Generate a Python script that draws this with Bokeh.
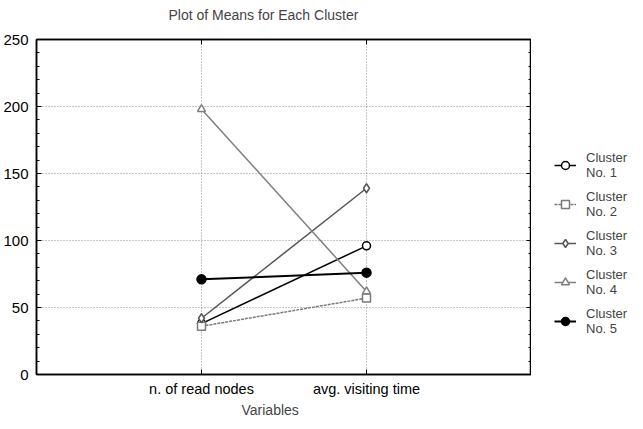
from bokeh.plotting import figure
from bokeh.layouts import row
from bokeh.models import (Range1d, FixedTicker, SingleIntervalTicker, LinearAxis,
                          Legend, LegendItem, Title, ColumnDataSource, Grid)
from bokeh.embed import file_html
from bokeh.resources import INLINE

# ---- data ----
categories = ["n. of read nodes", "avg. visiting time"]
cat_pos = [1, 2]
cluster_labels = ["Cluster\nNo. 1", "Cluster\nNo. 2", "Cluster\nNo. 3", "Cluster\nNo. 4", "Cluster\nNo. 5"]
cluster1 = [38, 96]
cluster2 = [36, 57]
cluster3 = [42, 139]
cluster4 = [198, 62]
cluster5 = [71, 76]
y_ticks = [0, 50, 100, 150, 200, 250]

FONT = "Liberation Sans"

p = figure(frame_width=495, frame_height=335, output_backend="svg", toolbar_location=None,
           x_range=Range1d(0, 3), y_range=Range1d(0, 250),
           min_border_left=36, min_border_right=0, min_border_top=33, min_border_bottom=45,
           x_axis_type=None, y_axis_type=None)
p.outline_line_color = "black"
p.outline_line_width = 1.5
p.background_fill_color = "white"
p.border_fill_color = "white"

p.title.text = "Plot of Means for Each Cluster"
p.title.text_font = FONT
p.title.text_font_size = "14px"
p.title.text_font_style = "normal"
p.title.align = "left"
p.title.offset = 132
p.title.standoff = 33

def style_axis(ax, labels=True):
    ax.axis_line_color = "black"
    ax.axis_line_width = 1.5
    ax.major_tick_in = 5
    ax.major_tick_out = 0
    ax.minor_tick_in = 3
    ax.minor_tick_out = 0
    ax.major_tick_line_color = "black"
    ax.minor_tick_line_color = "black"
    ax.major_label_text_font = FONT
    ax.major_label_text_font_size = "15px" if labels else "1px"
    ax.major_label_text_color = "black"
    ax.major_label_standoff = 8 if labels else 0

# left axis
yax = LinearAxis(ticker=SingleIntervalTicker(interval=50, num_minor_ticks=5))
style_axis(yax)
p.add_layout(yax, "left")
# right axis (ticks only)
yax_r = LinearAxis(ticker=SingleIntervalTicker(interval=50, num_minor_ticks=5),
                   major_label_overrides={t: "" for t in y_ticks})
style_axis(yax_r, labels=False)
p.add_layout(yax_r, "right")
# bottom axis
xax = LinearAxis(ticker=FixedTicker(ticks=cat_pos, minor_ticks=[]),
                 major_label_overrides={pos: c for pos, c in zip(cat_pos, categories)})
style_axis(xax)
xax.major_label_text_font_size = "14.5px"
xax.major_label_standoff = 6
p.add_layout(xax, "below")
# top axis (ticks only)
xax_t = LinearAxis(ticker=FixedTicker(ticks=cat_pos, minor_ticks=[]),
                   major_label_overrides={pos: "" for pos in cat_pos})
style_axis(xax_t, labels=False)
p.add_layout(xax_t, "above")

# grids
for dim, tk in ((0, FixedTicker(ticks=cat_pos)), (1, FixedTicker(ticks=y_ticks))):
    g = Grid(dimension=dim, ticker=tk, grid_line_color="#8c8c8c",
             grid_line_dash="1 2", grid_line_width=1)
    p.add_layout(g, "center")

# x axis title
p.add_layout(Title(text="Variables", align="left", offset=205, text_font=FONT,
                   text_font_size="14px", text_font_style="normal", standoff=0), "below")

styles = [
    dict(data=cluster1, color="black", lw=1.5, dash="solid", marker="circle", fill="white", size=8),
    dict(data=cluster2, color="#7a7a7a", lw=1.5, dash="3 1", marker="square", fill="white", size=8),
    dict(data=cluster3, color="#555555", lw=1.5, dash="solid", marker="diamond", fill="white", size=9),
    dict(data=cluster4, color="#808080", lw=1.5, dash="solid", marker="triangle", fill="white", size=8),
    dict(data=cluster5, color="black", lw=2, dash="solid", marker="circle", fill="black", size=9),
]

# legend lives in its own narrow figure to the right of the plot
# (its ranges are set away from the data so only the legend samples show)
lf = figure(width=100, height=425, output_backend="svg", toolbar_location=None,
            x_range=Range1d(10, 11), y_range=Range1d(1000, 1001),
            x_axis_type=None, y_axis_type=None, min_border=0)
lf.outline_line_color = None
lf.xgrid.visible = False
lf.ygrid.visible = False

items = []
for lab, st in zip(cluster_labels, styles):
    src = ColumnDataSource(dict(x=cat_pos, y=st["data"]))
    kw_line = dict(line_color=st["color"], line_width=st["lw"], line_dash=st["dash"])
    kw_mark = dict(marker=st["marker"], size=st["size"],
                   line_color=st["color"] if st["fill"] == "white" else "black",
                   fill_color=st["fill"], line_width=1.5)
    p.line("x", "y", source=src, **kw_line)
    p.scatter("x", "y", source=src, **kw_mark)
    l1 = lf.line("x", "y", source=src, **kw_line)
    l2 = lf.scatter("x", "y", source=src, **kw_mark)
    items.append(LegendItem(label=lab, renderers=[l1, l2]))

legend = Legend(items=items, location=(23, 32), border_line_color=None,
                background_fill_alpha=0, label_text_font=FONT, label_text_font_size="13px",
                glyph_width=22, glyph_height=20, label_standoff=10, spacing=9,
                label_text_line_height=1.3, padding=0, margin=0)
lf.add_layout(legend, "center")

layout = row(p, lf)
layout.margin = (-12, 0, 0, 0)
open("out.html", "w").write(file_html(layout, INLINE))
